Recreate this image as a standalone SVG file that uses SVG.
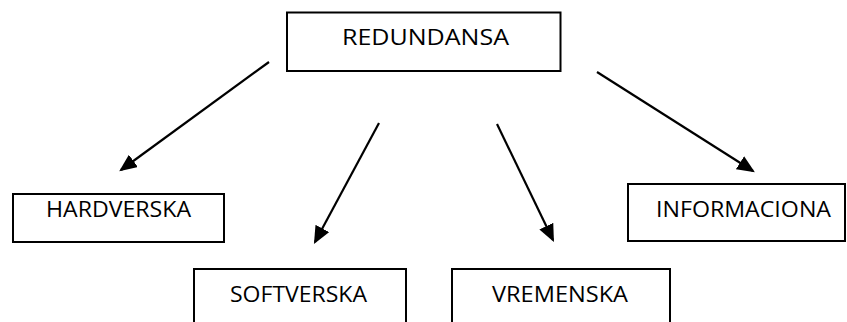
<svg xmlns="http://www.w3.org/2000/svg" width="847" height="322" viewBox="0 0 847 322">
<style>
.box{fill:#fff;stroke:#000;stroke-width:2}
.lbl{font-family:"Open Sans","Liberation Sans",sans-serif;font-size:22px;fill:#000}
.con{stroke:#000;stroke-width:2.2;fill:none;marker-end:url(#ah)}
</style>
<defs>
<marker id="ah" markerWidth="8" markerHeight="7" refX="7" refY="3.5" orient="auto" markerUnits="strokeWidth">
<path d="M0,0 L8,3.5 L0,7 Z" fill="#000"/>
</marker>
</defs>
<rect width="847" height="322" fill="#fff"/>
<g id="redundansa"><rect class="box" x="287" y="12.5" width="273.5" height="58.5"/><text class="lbl" x="342" y="45" textLength="167" lengthAdjust="spacingAndGlyphs">REDUNDANSA</text></g>
<g id="hardverska"><rect class="box" x="13" y="194" width="211" height="48"/><text class="lbl" x="46" y="217" textLength="145" lengthAdjust="spacingAndGlyphs">HARDVERSKA</text></g>
<g id="softverska"><rect class="box" x="194" y="269" width="212" height="60"/><text class="lbl" x="230" y="302" textLength="137" lengthAdjust="spacingAndGlyphs">SOFTVERSKA</text></g>
<g id="vremenska"><rect class="box" x="452" y="269" width="218" height="60"/><text class="lbl" x="492" y="302" textLength="136" lengthAdjust="spacingAndGlyphs">VREMENSKA</text></g>
<g id="informaciona"><rect class="box" x="628" y="184" width="217" height="57"/><text class="lbl" x="656" y="217" textLength="175" lengthAdjust="spacingAndGlyphs">INFORMACIONA</text></g>
<g id="connectors">
<line class="con" x1="269" y1="62" x2="121" y2="170"/>
<line class="con" x1="379" y1="123" x2="315" y2="242"/>
<line class="con" x1="497" y1="124" x2="553" y2="240"/>
<line class="con" x1="597" y1="72" x2="753" y2="171"/>
</g>
</svg>
